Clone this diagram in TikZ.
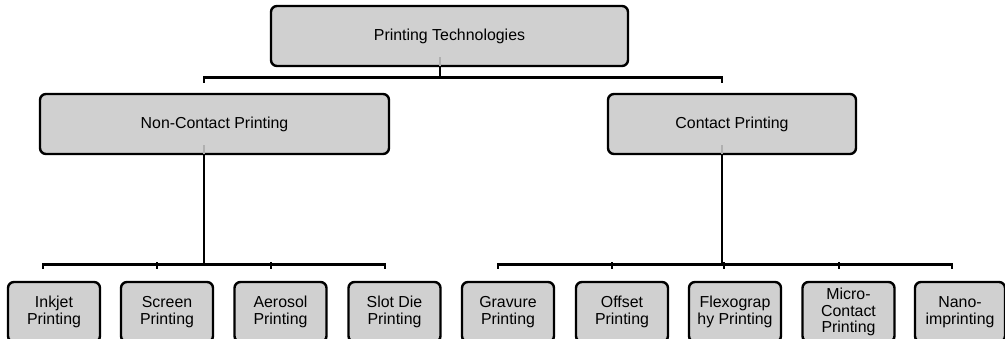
\documentclass[tikz,border=0pt]{standalone}
\usepackage{fontspec}
\setmainfont{Liberation Sans}
\definecolor{boxgray}{RGB}{208,208,208}
\definecolor{inner}{RGB}{175,175,175}
\tikzset{
  box/.style={draw=black, fill=boxgray, line width=2.4pt, rounded corners=6pt,
    inner sep=0pt, align=center, font=\fontsize{15.9}{16.5}\selectfont},
  topbox/.style={box, minimum height=60pt},
  leaf/.style={box, minimum width=92pt, minimum height=60pt},
  conn/.style={draw=black, line width=2.8pt},
  hint/.style={draw=inner, line width=2.8pt}
}
\begin{document}
\begin{tikzpicture}[x=1pt,y=-1pt]
\useasboundingbox (0,0) rectangle (1005,339);
\begin{scope}
\clip (0,0) rectangle (1005,339);
% nodes
\node[topbox, minimum width=357pt] (top) at (449.5,36) {Printing Technologies};
\node[topbox, minimum width=349pt] (nc) at (214.5,124) {Non-Contact Printing};
\node[topbox, minimum width=248pt] (c) at (732,124) {Contact Printing};
\node[leaf] (ink) at (54,312) {Inkjet\\Printing};
\node[leaf] (scr) at (167,312) {Screen\\Printing};
\node[leaf] (aer) at (280.5,312) {Aerosol\\Printing};
\node[leaf] (slot) at (394.5,312) {Slot Die\\Printing};
\node[leaf] (grav) at (508,312) {Gravure\\Printing};
\node[leaf] (off) at (622,312) {Offset\\Printing};
\node[leaf] (flex) at (735,312) {Flexograp\\hy Printing};
\node[leaf] (micro) at (848.5,312) {Micro-\\Contact\\Printing};
\node[leaf, minimum width=90pt] (nano) at (960,312) {Nano-\\imprinting};
% faint connector tails inside parent boxes
\draw[hint] ([xshift=-9.5pt,yshift=10pt]top.south) -- ([xshift=-9.5pt,yshift=1.5pt]top.south);
\draw[hint] ([xshift=-10.5pt,yshift=10pt]nc.south) -- ([xshift=-10.5pt,yshift=1.5pt]nc.south);
\draw[hint] ([xshift=-10pt,yshift=10pt]c.south) -- ([xshift=-10pt,yshift=1.5pt]c.south);
% level 1 -> 2
\draw[conn] ([xshift=-9.5pt]top.south) -- ++(0,10) coordinate (j0);
\draw[conn] ([xshift=-10.5pt,yshift=10pt]nc.north) |- (j0) -| ([xshift=-10pt,yshift=10pt]c.north);
% level 2 -> 3 (left)
\draw[conn] ([xshift=-10.5pt]nc.south) -- ++(0,109) coordinate (j1);
\draw[conn] ([xshift=-11pt,yshift=12pt]ink.north) |- (j1) -| ([xshift=-9.5pt,yshift=12pt]slot.north);
\draw[conn] ([xshift=-10pt,yshift=12pt]scr.north) -- ([xshift=-10pt,yshift=19pt]scr.north);
\draw[conn] ([xshift=-9.5pt,yshift=12pt]aer.north) -- ([xshift=-9.5pt,yshift=19pt]aer.north);
% level 2 -> 3 (right)
\draw[conn] ([xshift=-10pt]c.south) -- ++(0,109) coordinate (j2);
\draw[conn] ([xshift=-10pt,yshift=12pt]grav.north) |- (j2) -| ([xshift=-8pt,yshift=12pt]nano.north);
\draw[conn] ([xshift=-10pt,yshift=12pt]off.north) -- ([xshift=-10pt,yshift=19pt]off.north);
\draw[conn] ([xshift=-11pt,yshift=12pt]flex.north) -- ([xshift=-11pt,yshift=19pt]flex.north);
\draw[conn] ([xshift=-9.5pt,yshift=12pt]micro.north) -- ([xshift=-9.5pt,yshift=19pt]micro.north);
\end{scope}
\end{tikzpicture}
\end{document}
